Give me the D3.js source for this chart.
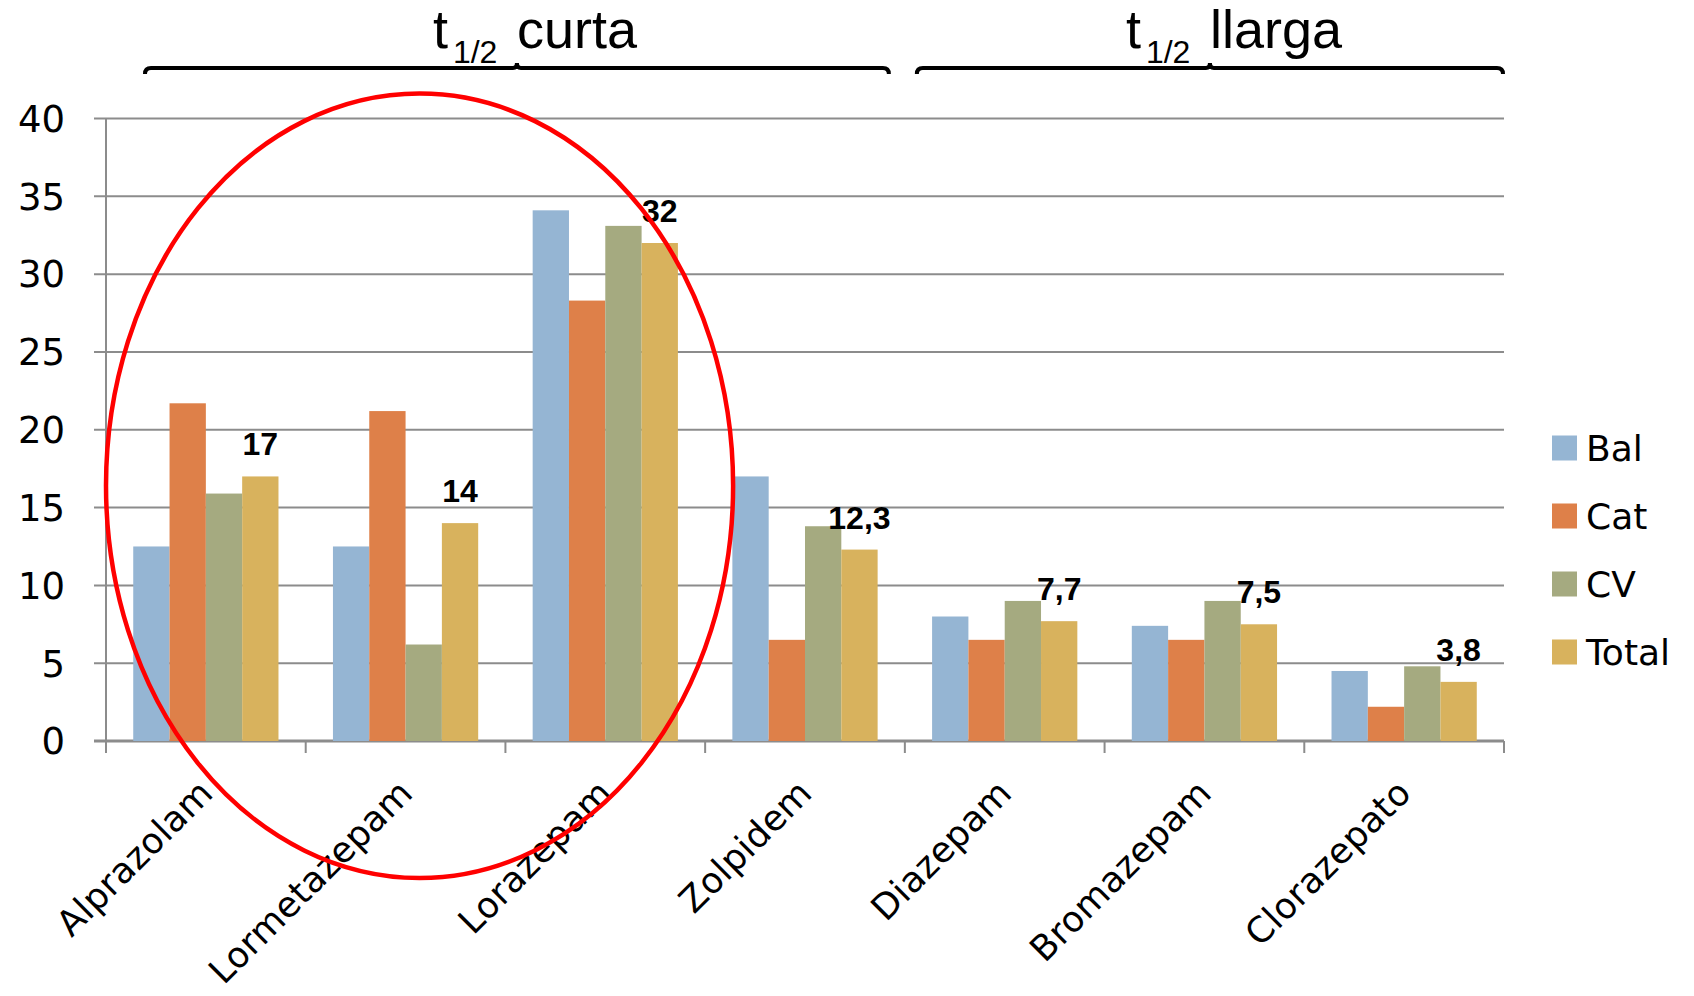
<!DOCTYPE html>
<html>
<head>
<meta charset="utf-8">
<script src="https://cdn.jsdelivr.net/npm/d3@7"></script>
<style>
  body { margin: 0; background: #fff; }
  svg { display: block; }
</style>
</head>
<body>
<div id="chart"></div>
<script>
// data
const categories = ["Alprazolam", "Lormetazepam", "Lorazepam", "Zolpidem", "Diazepam", "Bromazepam", "Clorazepato"];
const series = ["Bal", "Cat", "CV", "Total"];
const bal   = [12.5, 12.5, 34.1, 17.0, 8.0, 7.4, 4.5];
const cat   = [21.7, 21.2, 28.3, 6.5, 6.5, 6.5, 2.2];
const cv    = [15.9, 6.2, 33.1, 13.8, 9.0, 9.0, 4.8];
const total = [17, 14, 32, 12.3, 7.7, 7.5, 3.8];
const totalLabels = ["17", "14", "32", "12,3", "7,7", "7,5", "3,8"];
const yTicks = [0, 5, 10, 15, 20, 25, 30, 35, 40];
const groups = [
  {label: "curta",  first: "Alprazolam", last: "Zolpidem"},
  {label: "llarga", first: "Diazepam",   last: "Clorazepato"}
];

const values = {Bal: bal, Cat: cat, CV: cv, Total: total};
const colors = ["#95b5d3", "#de8049", "#a5aa80", "#d8b25d"];

const W = 1694, H = 996;
const margin = {left: 106, right: 190, top: 118.5, bottom: 255};
const width = W - margin.left - margin.right,
      height = H - margin.top - margin.bottom;

const svg = d3.select("#chart").append("svg")
  .attr("width", W).attr("height", H);

const g = svg.append("g")
  .attr("transform", `translate(${margin.left},${margin.top})`);

const x0 = d3.scaleBand().domain(categories).range([0, width]);
const x1 = d3.scaleBand().domain(series).range([0, x0.bandwidth()]).paddingOuter(0.75);
const y = d3.scaleLinear().domain([0, 40]).range([height, 0]);
const color = d3.scaleOrdinal().domain(series).range(colors);

const grey = "#8c8c8c";
const axisFont = "'DejaVu Sans', sans-serif";

// gridlines + left ticks
g.selectAll(".grid")
  .data(yTicks)
  .enter().append("line")
  .attr("x1", -12).attr("x2", width)
  .attr("y1", d => y(d)).attr("y2", d => y(d))
  .attr("stroke", grey)
  .attr("stroke-width", d => d === 0 ? 3 : 2);

// y axis line
g.append("line")
  .attr("x1", 0).attr("x2", 0)
  .attr("y1", y(40)).attr("y2", height + 12)
  .attr("stroke", grey).attr("stroke-width", 2);

// x category ticks
g.selectAll(".xtick")
  .data(categories.map(c => x0(c)).concat([width]))
  .enter().append("line")
  .attr("x1", d => d).attr("x2", d => d)
  .attr("y1", height).attr("y2", height + 12)
  .attr("stroke", grey).attr("stroke-width", 2);

// y tick labels
g.selectAll(".ylab")
  .data(yTicks)
  .enter().append("text")
  .attr("x", -41).attr("y", d => y(d))
  .attr("dy", "0.36em")
  .attr("text-anchor", "end")
  .attr("font-family", axisFont)
  .attr("font-size", 37)
  .text(d => d);

// x labels, rotated
g.selectAll(".xlab")
  .data(categories)
  .enter().append("text")
  .attr("transform", d => `translate(${x0(d) + x0.bandwidth() / 2 + 9},${height + 54}) rotate(-45)`)
  .attr("text-anchor", "end")
  .attr("font-family", axisFont)
  .attr("font-size", 35.5)
  .attr("letter-spacing", 0.3)
  .text(d => d);

// bars
const flat = [];
categories.forEach((c, i) => series.forEach(s => flat.push({c, s, v: values[s][i]})));

g.selectAll(".bar")
  .data(flat)
  .enter().append("rect")
  .attr("x", d => x0(d.c) + x1(d.s))
  .attr("width", x1.bandwidth())
  .attr("y", d => y(d.v))
  .attr("height", d => height - y(d.v))
  .attr("fill", d => color(d.s));

// labels over the Total bars
g.selectAll(".vlab")
  .data(categories)
  .enter().append("text")
  .attr("x", d => x0(d) + x1("Total") + x1.bandwidth() / 2)
  .attr("y", (d, i) => y(total[i]) - 21)
  .attr("text-anchor", "middle")
  .attr("font-family", "'Liberation Sans', Arial, sans-serif")
  .attr("font-weight", "bold")
  .attr("font-size", 32)
  .text((d, i) => totalLabels[i]);

// legend
const legend = svg.append("g").attr("transform", "translate(1552,448)");
series.forEach((s, i) => {
  legend.append("rect")
    .attr("x", 0).attr("y", i * 68 - 12.5)
    .attr("width", 25).attr("height", 25)
    .attr("fill", color(s));
  legend.append("text")
    .attr("x", 34).attr("y", i * 68)
    .attr("dy", "0.36em")
    .attr("font-family", axisFont)
    .attr("font-size", 36)
    .text(s);
});

// braces and group titles
const braceY = 68 - margin.top;
groups.forEach((gr, k) => {
  const xa = x0(gr.first) + (k === 0 ? 39 : 12);
  const xb = x0(gr.last) + x0.bandwidth() - (k === 0 ? 16 : 1);
  const xc = (xa + xb) / 2;
  g.append("path")
    .attr("d", `M${xa},${braceY + 6} Q${xa},${braceY} ${xa + 6},${braceY} L${xc - 4},${braceY} Q${xc},${braceY} ${xc},${braceY - 5} Q${xc},${braceY} ${xc + 4},${braceY} L${xb - 6},${braceY} Q${xb},${braceY} ${xb},${braceY + 6}`)
    .attr("fill", "none")
    .attr("stroke", "#000")
    .attr("stroke-width", 4);

  const t = g.append("text")
    .attr("font-family", "'Liberation Sans', Arial, sans-serif")
    .attr("y", 48 - margin.top);
  t.append("tspan").attr("x", xc - 84).attr("font-size", 54).text("t");
  t.append("tspan").attr("x", xc - 64).attr("dy", 15).attr("font-size", 32).text("1/2");
  t.append("tspan").attr("x", xc).attr("dy", -15).attr("font-size", 54).text(gr.label);
});

// red ellipse annotation around the short half-life group
g.append("ellipse")
  .attr("cx", x0("Lormetazepam") + x0.bandwidth() * 0.57)
  .attr("cy", y(16.4))
  .attr("rx", x0.bandwidth() * 1.57)
  .attr("ry", y(0) - y(25.2))
  .attr("fill", "none")
  .attr("stroke", "#ff0000")
  .attr("stroke-width", 4.5);
</script>
</body>
</html>
